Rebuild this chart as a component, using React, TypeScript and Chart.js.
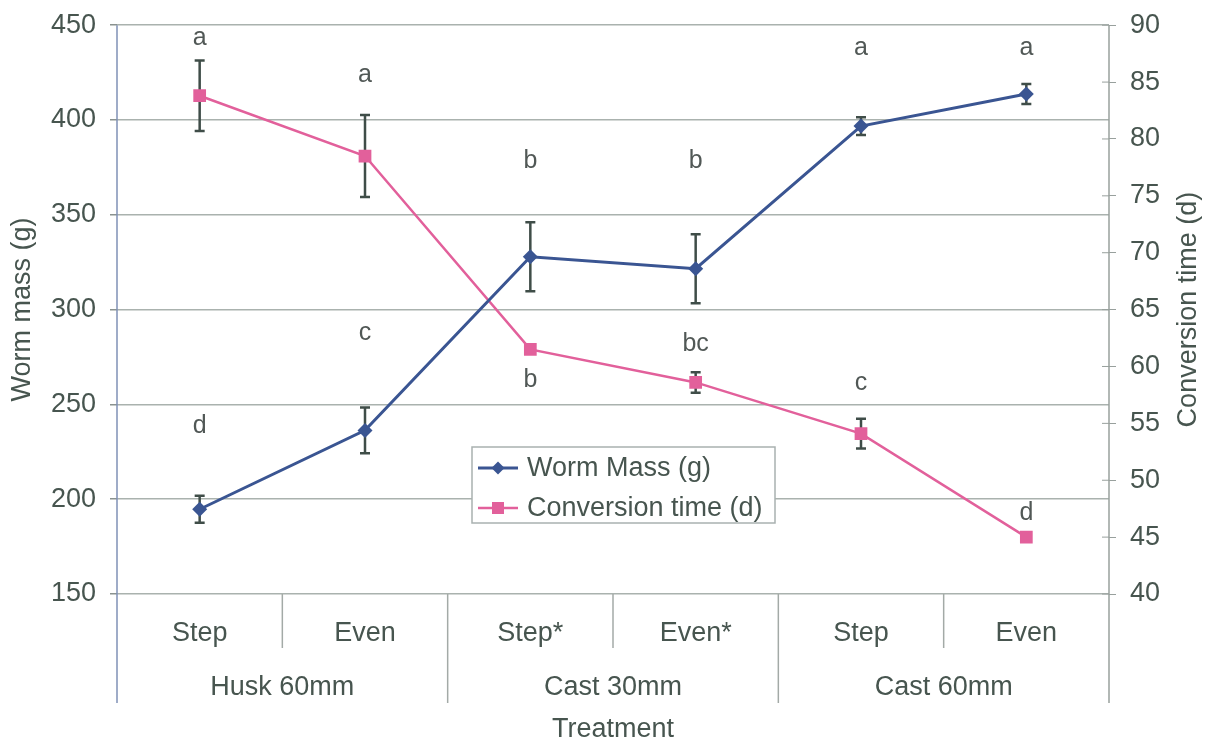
import React, { useEffect, useRef } from "react";
import { Chart, registerables } from "chart.js";

Chart.register(...registerables);

// ---- data ----
const categories = ["Step", "Even", "Step*", "Even*", "Step", "Even"];
const groups = ["Husk 60mm", "Cast 30mm", "Cast 60mm"];
const groupSizes = [2, 2, 2];
const wormMass = [194.7, 236.3, 327.9, 321.6, 396.8, 413.7];
const wormMassErr = [7.1, 12.1, 18.2, 18.2, 4.7, 5.3];
const conversionTime = [83.8, 78.5, 61.5, 58.6, 54.1, 45.0];
const conversionTimeErr = [3.1, 3.6, 0, 0.9, 1.3, 0];
const massLetters = ["d", "c", "b", "b", "a", "a"];
const massLetterAt = [238.4, 287.4, 378.4, 378.4, 437.9, 437.9];
const timeLetters = ["a", "a", "b", "bc", "c", "d"];
const timeLetterAt = [88.9, 85.6, 58.8, 62.0, 58.5, 47.1];
const leftTicks = { min: 150, max: 450, step: 50 };
const rightTicks = { min: 40, max: 90, step: 5 };
const seriesNames = ["Worm Mass (g)", "Conversion time (d)"];
const leftTitle = "Worm mass (g)";
const rightTitle = "Conversion time (d)";
const xTitle = "Treatment";

// ---- styles ----
const FONT = "'Liberation Sans', Arial, sans-serif";
const FS = 27;
const SHIFT = 5; // canvas is placed SHIFT px above the page top
const TEXT = "#47554f";
const GRID = "#aab2ae";
const BLUE = "#3a5592";
const PINK = "#e2609b";
const ERR = "#3f4d48";

function drawDiamond(ctx: CanvasRenderingContext2D, x: number, y: number, r: number, c: string) {
  ctx.beginPath();
  ctx.moveTo(x, y - r);
  ctx.lineTo(x + r, y);
  ctx.lineTo(x, y + r);
  ctx.lineTo(x - r, y);
  ctx.closePath();
  ctx.fillStyle = c;
  ctx.fill();
}

const customPlugin = {
  id: "custom",
  beforeDatasetsDraw(chart: any) {
    const ctx = chart.ctx as CanvasRenderingContext2D;
    const x = chart.scales.x;
    const yL = chart.scales.y;
    const yR = chart.scales.y1;
    ctx.save();
    ctx.strokeStyle = ERR;
    ctx.lineWidth = 2.5;
    const cap = 5;
    const bar = (px: number, top: number, bot: number) => {
      if (Math.abs(bot - top) < 1) return;
      ctx.beginPath();
      ctx.moveTo(px, top);
      ctx.lineTo(px, bot);
      ctx.moveTo(px - cap, top);
      ctx.lineTo(px + cap, top);
      ctx.moveTo(px - cap, bot);
      ctx.lineTo(px + cap, bot);
      ctx.stroke();
    };
    categories.forEach((_, i) => {
      const px = x.getPixelForValue(i);
      bar(px, yL.getPixelForValue(wormMass[i] + wormMassErr[i]), yL.getPixelForValue(wormMass[i] - wormMassErr[i]));
      bar(px, yR.getPixelForValue(conversionTime[i] + conversionTimeErr[i]), yR.getPixelForValue(conversionTime[i] - conversionTimeErr[i]));
    });
    ctx.restore();
  },
  afterDraw(chart: any) {
    const ctx = chart.ctx as CanvasRenderingContext2D;
    const area = chart.chartArea;
    const x = chart.scales.x;
    const yL = chart.scales.y;
    const yR = chart.scales.y1;
    const n = categories.length;
    const bw = (area.right - area.left) / n;
    ctx.save();

    // axis borders extending down through the category table
    const tableBottom = area.bottom + 109;
    ctx.lineWidth = 1.5;
    ctx.strokeStyle = "#7f90b6";
    ctx.beginPath();
    ctx.moveTo(area.left, area.top);
    ctx.lineTo(area.left, tableBottom);
    ctx.stroke();
    ctx.strokeStyle = "#98a09d";
    ctx.beginPath();
    ctx.moveTo(area.right, area.top);
    ctx.lineTo(area.right, tableBottom);
    ctx.stroke();
    // inner ticks on right axis
    ctx.lineWidth = 1;
    for (let v = rightTicks.min; v <= rightTicks.max; v += rightTicks.step) {
      const py = yR.getPixelForValue(v);
      ctx.beginPath();
      ctx.moveTo(area.right - 7, py);
      ctx.lineTo(area.right, py);
      ctx.stroke();
    }

    // category separators
    ctx.strokeStyle = "#a3aaa7";
    ctx.lineWidth = 1.5;
    let acc = 0;
    const groupEdges = new Set<number>();
    groupSizes.forEach((g) => {
      acc += g;
      groupEdges.add(acc);
    });
    for (let k = 1; k < n; k++) {
      const px = area.left + bw * k;
      ctx.beginPath();
      ctx.moveTo(px, area.bottom);
      ctx.lineTo(px, groupEdges.has(k) ? tableBottom : area.bottom + 54);
      ctx.stroke();
    }

    // category labels
    ctx.fillStyle = TEXT;
    ctx.font = `${FS}px ${FONT}`;
    ctx.textAlign = "center";
    ctx.textBaseline = "middle";
    categories.forEach((c, i) => {
      ctx.fillText(c, x.getPixelForValue(i), area.bottom + 40);
    });
    let start = 0;
    groups.forEach((g, gi) => {
      const cx = area.left + bw * (start + groupSizes[gi] / 2);
      ctx.fillText(g, cx, area.bottom + 94);
      start += groupSizes[gi];
    });
    ctx.fillText(xTitle, (area.left + area.right) / 2, area.bottom + 136);

    // axis titles
    const midY = (area.top + area.bottom) / 2;
    ctx.save();
    ctx.translate(23, midY);
    ctx.rotate(-Math.PI / 2);
    ctx.fillText(leftTitle, 0, 0);
    ctx.restore();
    ctx.save();
    ctx.translate(1189, midY);
    ctx.rotate(-Math.PI / 2);
    ctx.fillText(rightTitle, 0, 0);
    ctx.restore();

    // significance letters
    ctx.fillStyle = "#515856";
    ctx.font = `25px ${FONT}`;
    categories.forEach((_, i) => {
      const px = x.getPixelForValue(i);
      ctx.fillText(massLetters[i], px, yL.getPixelForValue(massLetterAt[i]));
      ctx.fillText(timeLetters[i], px, yR.getPixelForValue(timeLetterAt[i]));
    });

    // legend
    const lx = 472, ly = 447 + SHIFT, lw = 303, lh = 76;
    ctx.fillStyle = "#ffffff";
    ctx.fillRect(lx, ly, lw, lh);
    ctx.strokeStyle = "#a9b1b0";
    ctx.lineWidth = 1.5;
    ctx.strokeRect(lx, ly, lw, lh);
    const rows = [ly + 21, ly + 61];
    const colors = [BLUE, PINK];
    rows.forEach((ry, i) => {
      ctx.strokeStyle = colors[i];
      ctx.lineWidth = i === 0 ? 3 : 2.5;
      ctx.beginPath();
      ctx.moveTo(lx + 6, ry);
      ctx.lineTo(lx + 46, ry);
      ctx.stroke();
      if (i === 0) drawDiamond(ctx, lx + 26, ry, 6.5, BLUE);
      else {
        ctx.fillStyle = PINK;
        ctx.fillRect(lx + 26 - 6, ry - 6, 12, 12);
      }
      ctx.fillStyle = TEXT;
      ctx.font = `${FS}px ${FONT}`;
      ctx.textAlign = "left";
      ctx.fillText(seriesNames[i], lx + 55, ry + 1);
    });
    ctx.restore();
  },
};

export default function App() {
  const ref = useRef<HTMLCanvasElement>(null);
  useEffect(() => {
    const chart = new Chart(ref.current!, {
      type: "line",
      data: {
        labels: categories,
        datasets: [
          {
            label: seriesNames[0],
            data: wormMass,
            yAxisID: "y",
            borderColor: BLUE,
            backgroundColor: BLUE,
            borderWidth: 3,
            pointStyle: "rectRot",
            pointRadius: 7.5,
            pointBorderWidth: 0,
            pointBackgroundColor: BLUE,
            tension: 0,
          },
          {
            label: seriesNames[1],
            data: conversionTime,
            yAxisID: "y1",
            borderColor: PINK,
            backgroundColor: PINK,
            borderWidth: 2.5,
            pointStyle: "rect",
            pointRadius: 9,
            pointBorderWidth: 0,
            pointBackgroundColor: PINK,
            tension: 0,
          },
        ],
      },
      options: {
        animation: false,
        responsive: true,
        maintainAspectRatio: false,
        layout: { padding: { top: 24, left: 0, right: 0, bottom: 0 } },
        plugins: { legend: { display: false }, tooltip: { enabled: false } },
        scales: {
          x: {
            type: "category",
            offset: true,
            ticks: { display: false },
            grid: { display: false },
            border: { display: false },
            afterFit: (s: any) => {
              s.height = 149;
            },
          },
          y: {
            type: "linear",
            position: "left",
            min: leftTicks.min,
            max: leftTicks.max,
            ticks: { stepSize: leftTicks.step, color: TEXT, font: { family: FONT, size: FS }, padding: 14 },
            grid: { color: GRID, lineWidth: 1.5, tickLength: 7, tickColor: "#8a928f" },
            border: { display: false },
            afterFit: (s: any) => {
              s.width = 117;
            },
          },
          y1: {
            type: "linear",
            position: "right",
            min: rightTicks.min,
            max: rightTicks.max,
            ticks: { stepSize: rightTicks.step, color: TEXT, font: { family: FONT, size: FS }, padding: 14 },
            grid: { drawOnChartArea: false, tickLength: 7, color: "#98a09d", lineWidth: 1 },
            border: { display: false },
            afterFit: (s: any) => {
              s.width = 100;
            },
          },
        },
      } as any,
      plugins: [customPlugin],
    });
    return () => chart.destroy();
  }, []);
  return (
    <div style={{ position: "absolute", left: 0, top: -SHIFT, width: 1209, height: 743 + SHIFT, background: "#fff" }}>
      <canvas ref={ref} />
    </div>
  );
}
